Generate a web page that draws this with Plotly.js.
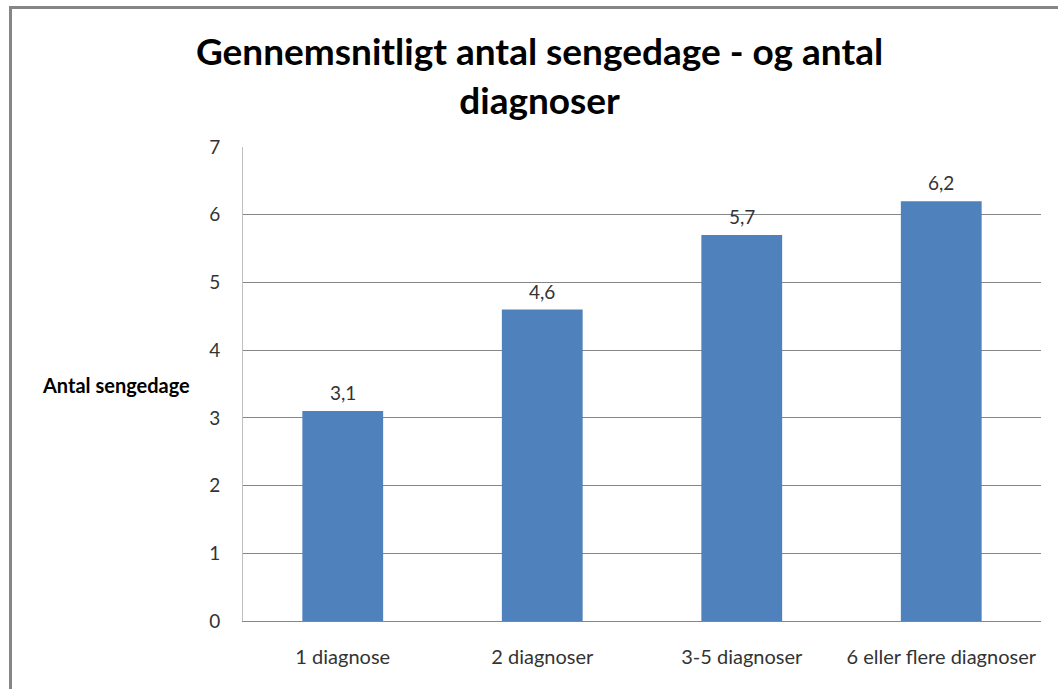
<!DOCTYPE html>
<html>
<head>
<meta charset="utf-8">
<script src="https://cdn.plot.ly/plotly-3.0.1.min.js"></script>
<style>
  html, body { margin: 0; padding: 0; background: #fff; }
  #wrap { position: relative; width: 1058px; height: 689px; overflow: hidden; }
  #chart { width: 1058px; height: 689px; }
  #frame { position: absolute; left: 9px; top: 6px; width: 1200px; height: 900px;
           border-left: 3px solid #868686; border-top: 3px solid #868686; pointer-events: none; }
</style>
</head>
<body>
<div id="wrap">
  <div id="chart"></div>
  <div id="frame"></div>
</div>
<script>
const categories = ["1 diagnose", "2 diagnoser", "3-5 diagnoser", "6 eller flere diagnoser"];
const values = [3.1, 4.6, 5.7, 6.2];
const yTicks = [0, 1, 2, 3, 4, 5, 6, 7];
const titleText = "Gennemsnitligt antal sengedage - og antal<br>diagnoser";
const yTitle = "Antal sengedage";

const FONT = "Lato, 'Open Sans', sans-serif";

const trace = {
  type: "bar",
  x: categories,
  y: values,
  marker: { color: "#4F81BD", line: { width: 0 } },
  hoverinfo: "x+y"
};

const labelAnnotations = categories.map((c, i) => ({
  x: c, y: values[i], xref: "x", yref: "y",
  text: values[i].toFixed(1).replace(".", ","),
  showarrow: false, yanchor: "bottom", yshift: 5,
  font: { family: FONT, size: 19, color: "#333333" }
}));

const layout = {
  width: 1058,
  height: 689,
  margin: { l: 243, r: 17, t: 147, b: 68 },
  paper_bgcolor: "#ffffff",
  plot_bgcolor: "#ffffff",
  separators: ",.",
  bargap: 0.595,
  showlegend: false,
  font: { family: FONT, size: 19, color: "#333333" },
  title: {
    text: titleText,
    font: { family: FONT, size: 37, color: "#000000", weight: "bold" },
    x: 0.51, xanchor: "center",
    y: 0.905, yanchor: "top"
  },
  xaxis: {
    type: "category",
    showgrid: false,
    showline: true,
    linecolor: "#868686",
    linewidth: 1,
    ticks: "",
    tickfont: { family: FONT, size: 20, color: "#333333" },
    ticklabelstandoff: 18,
    fixedrange: true
  },
  yaxis: {
    range: [0, 7],
    tickvals: yTicks,
    ticktext: yTicks.map(String),
    showgrid: true,
    gridcolor: "#868686",
    gridwidth: 1,
    zeroline: false,
    showline: true,
    linecolor: "#BFBFBF",
    linewidth: 1,
    ticks: "",
    tickfont: { family: FONT, size: 19, color: "#333333" },
    ticklabelstandoff: 18,
    fixedrange: true
  },
  annotations: [{
    text: yTitle,
    xref: "paper", yref: "paper",
    x: (40 - 243) / 798, xanchor: "left",
    y: (621 - 385) / 474, yanchor: "middle",
    showarrow: false,
    font: { family: FONT, size: 20, color: "#000000", weight: "bold" }
  }].concat(labelAnnotations)
};

Plotly.newPlot("chart", [trace], layout, { displayModeBar: false });
</script>
</body>
</html>
